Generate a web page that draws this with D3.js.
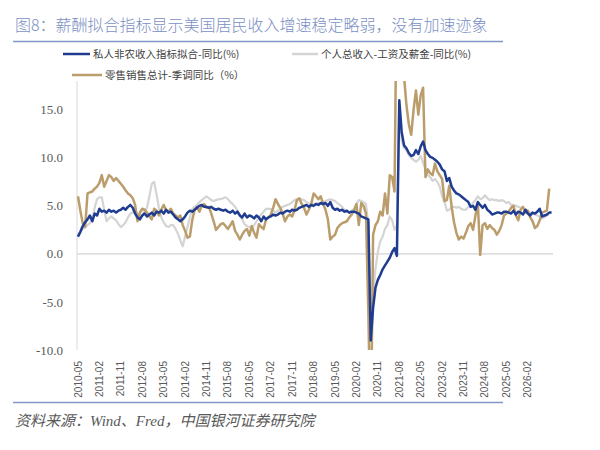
<!DOCTYPE html>
<meta charset="utf-8">
<html>
<script src="https://d3js.org/d3.v7.min.js"></script>
<style>
    body { margin: 0; background: #fff; }
    svg { display: block; }
</style>
<body>
<svg id="chart"></svg>
<script>
// ---------------- data ----------------
const titleText = "图8：薪酬拟合指标显示美国居民收入增速稳定略弱，没有加速迹象";
const sourceText = "资料来源：Wind、Fred，中国银河证券研究院";
const seriesNames = ["私人非农收入指标拟合-同比(%)", "个人总收入-工资及薪金-同比(%)", "零售销售总计-季调同比（%）"];

const tickLabels = ["2010-05","2011-02","2011-11","2012-08","2013-05","2014-02","2014-11","2015-08",
    "2016-05","2017-02","2017-11","2018-08","2019-05","2020-02","2020-11","2021-08","2022-05",
    "2023-02","2023-11","2024-08","2025-05","2026-02"];
const yTicks = [15, 10, 5, 0, -5, -10];

// 私人非农收入指标拟合-同比
const privateNonfarm = [
    1.8,2.3,2.9,3.3,3.6,4.0,3.4,4.2,4.0,4.7,
    4.4,4.5,4.3,4.6,4.4,4.5,4.3,4.5,4.6,4.8,
    4.6,4.9,5.1,4.8,4.2,3.8,3.6,4.0,4.2,3.9,
    4.1,4.3,4.0,4.4,4.3,4.5,4.2,4.6,4.3,4.4,
    4.1,3.8,3.6,3.4,3.6,3.9,4.3,4.5,4.4,4.6,
    4.8,5.0,5.1,4.9,4.9,4.8,4.9,4.7,4.6,4.7,
    4.6,4.5,4.6,4.4,4.3,4.5,4.2,4.4,4.0,3.8,
    4.2,3.8,4.0,3.9,3.7,4.0,3.8,3.4,3.9,3.6,
    3.8,3.9,4.1,4.0,4.1,4.3,4.2,4.4,4.5,4.4,
    4.6,4.5,4.6,4.8,4.9,5.0,5.1,4.9,5.1,5.0,
    5.2,5.1,5.3,5.2,5.3,5.0,5.4,4.8,4.6,4.7,
    4.5,4.6,4.4,4.5,4.3,4.4,4.4,4.3,4.2,3.9,
    3.8,3.7,3.6,-9.0,-5.6,-3.5,-2.7,-2.2,-1.6,-1.2,
    -0.8,-0.4,0.2,0.6,-0.2,16.0,12.7,11.3,11.0,10.5,
    10.2,10.3,10.8,10.4,11.2,11.7,10.8,10.4,10.1,10.0,
    9.8,9.6,9.3,8.8,8.6,7.6,7.9,7.0,6.6,6.3,
    6.2,6.0,5.8,5.6,5.4,4.9,5.0,4.6,5.4,5.1,
    4.8,5.1,4.6,4.4,4.1,4.2,4.3,4.3,4.2,4.4,
    4.4,4.3,4.2,4.5,4.1,4.4,4.3,4.1,4.6,4.2,
    4.0,4.3,4.2,4.4,4.7,3.9,4.0,4.1,4.3,4.3
];

// 个人总收入-工资及薪金-同比
const wagesSalaries = [
    2.0,2.3,2.6,2.8,3.0,3.2,3.6,4.8,5.7,5.9,
    5.9,4.6,3.4,3.7,3.9,3.7,3.5,3.1,2.8,3.0,
    3.3,3.8,4.2,4.3,4.4,4.2,3.8,4.0,4.5,4.8,
    6.0,7.3,7.5,6.2,4.8,3.8,3.3,2.9,2.8,3.0,
    3.0,2.6,2.1,1.4,0.8,1.8,2.8,3.8,4.7,4.9,
    5.1,5.4,5.6,5.8,6.0,5.8,5.6,5.5,5.6,5.7,
    5.7,5.8,5.9,5.7,5.4,5.2,4.9,4.5,4.1,3.6,
    3.1,2.9,2.8,2.7,3.0,3.4,3.8,4.1,4.4,4.7,
    4.7,4.7,4.5,4.3,4.5,4.7,4.9,5.0,5.1,5.2,
    5.4,5.6,5.7,5.7,5.7,5.6,5.4,5.2,5.2,5.2,
    5.2,5.3,5.3,5.4,5.5,5.6,5.7,5.6,5.5,5.3,
    5.1,4.9,4.6,4.4,4.3,4.5,4.7,5.2,5.6,5.5,
    5.4,5.2,3.0,-7.5,-4.5,-1.5,0.2,1.3,1.8,2.6,
    3.0,3.9,3.5,2.5,3.0,15.3,11.8,11.0,10.8,10.3,
    10.0,9.8,9.6,9.8,10.2,9.5,8.8,8.2,8.0,7.6,
    7.8,7.5,7.0,6.0,5.4,4.5,4.6,4.9,4.9,4.8,
    4.9,4.7,4.6,4.6,4.9,5.0,5.3,5.6,6.0,5.7,
    5.8,6.1,5.8,5.6,5.7,5.6,5.6,5.5,5.6,5.5,
    5.3,5.4,5.1,5.1,5.0,4.9,4.8,4.8,4.6,4.5,
    4.3,4.2,4.1,4.0,3.9,3.7,3.8,4.0,4.1
];

// 零售销售总计-季调同比
const retailSales = [
    6.0,4.5,3.2,2.8,6.3,6.4,6.5,6.8,7.0,7.4,
    8.2,7.0,7.6,8.2,8.0,7.6,7.9,7.6,7.3,7.0,
    6.6,6.3,6.1,5.8,5.1,3.4,4.3,4.7,4.6,4.3,
    3.9,3.6,4.7,4.5,4.0,4.6,5.1,4.6,4.4,4.7,
    4.2,4.0,3.8,4.0,3.0,2.4,1.7,1.8,3.5,4.6,
    4.9,4.4,5.0,5.2,4.8,4.9,4.2,3.4,2.5,2.8,
    3.1,3.2,2.9,2.6,3.0,3.4,2.4,2.0,1.5,2.0,
    2.4,2.6,1.9,2.9,2.2,1.7,3.1,2.8,2.6,3.6,
    3.8,4.1,4.8,5.7,5.2,4.8,4.2,3.4,3.9,4.1,
    3.9,4.6,5.6,5.8,5.2,4.8,4.1,4.6,5.2,6.3,
    6.0,5.7,6.0,5.2,4.6,3.6,1.5,1.8,2.0,2.7,
    3.0,3.2,3.3,3.4,3.8,4.1,4.5,5.2,3.0,5.3,
    5.0,4.2,-6.0,-20.0,2.0,3.0,3.4,4.4,4.0,6.3,
    4.2,8.2,8.0,6.5,30.0,50.0,28.0,18.5,15.5,13.5,
    12.4,15.0,17.0,14.5,16.5,17.3,8.0,8.8,8.4,8.2,
    9.4,8.6,8.2,7.8,5.5,5.6,7.1,4.9,3.3,2.2,
    1.5,1.8,1.6,2.2,2.9,3.2,2.5,4.0,5.3,-0.1,
    3.0,3.2,2.6,3.0,2.7,2.5,2.0,2.4,3.0,4.0,
    4.2,4.4,4.8,5.0,4.0,3.5,4.6,4.9,4.3,4.5,
    3.8,3.4,2.7,2.9,3.5,4.3,4.4,4.5,6.8
];

// monthly categories starting 2010-05
const months = [];
for (let k = 0; k < privateNonfarm.length; k++) {
    const m = 4 + k;
    months.push((2010 + Math.floor(m / 12)) + "-" + String(m % 12 + 1).padStart(2, "0"));
}

// ---------------- layout ----------------
const width = 600, height = 450;
const plotLeft = 77, plotRight = 553, plotTop = 81, plotBottom = 350;

const svg = d3.select("#chart")
    .attr("width", width)
    .attr("height", height)
    .style("background", "#fff");

const x = d3.scalePoint().domain(months).range([78, 551.6]);
const y = d3.scaleLinear().domain([-10, 18]).range([plotBottom, plotTop]);

// title + rules
svg.append("text")
    .attr("x", 15).attr("y", 31)
    .attr("font-family", "'Noto Sans CJK SC', sans-serif")
    .attr("font-size", 16)
    .attr("font-weight", 300)
    .attr("fill", "#7b90c4")
    .text(titleText);

svg.append("line").attr("x1", 13).attr("x2", 503).attr("y1", 41.5).attr("y2", 41.5)
    .attr("stroke", "#7f96c8").attr("stroke-width", 1.5);
svg.append("line").attr("x1", 13).attr("x2", 503).attr("y1", 402.5).attr("y2", 402.5)
    .attr("stroke", "#7f96c8").attr("stroke-width", 1.5);

svg.append("text")
    .attr("x", 15).attr("y", 426)
    .attr("font-family", "'Liberation Serif', 'Noto Sans CJK SC', serif")
    .attr("font-size", 15)
    .attr("font-style", "italic")
    .attr("fill", "#595959")
    .text(sourceText);

// axes lines
svg.append("line").attr("x1", plotLeft).attr("x2", plotLeft).attr("y1", plotTop).attr("y2", plotBottom)
    .attr("stroke", "#d9d9d9").attr("stroke-width", 1);
svg.append("line").attr("x1", plotLeft).attr("x2", plotRight).attr("y1", y(0)).attr("y2", y(0))
    .attr("stroke", "#c8c8c8").attr("stroke-width", 1);

// y tick labels
svg.append("g").selectAll("text")
    .data(yTicks)
    .enter().append("text")
    .attr("x", 63)
    .attr("y", d => y(d))
    .attr("dy", "0.35em")
    .attr("text-anchor", "end")
    .attr("font-family", "'Liberation Serif', serif")
    .attr("font-size", 13)
    .attr("fill", "#595959")
    .text(d => d.toFixed(1));

// x tick labels (rotated)
svg.append("g").selectAll("text")
    .data(tickLabels)
    .enter().append("text")
    .attr("transform", d => `translate(${x(d)},361) rotate(-90)`)
    .attr("dy", "0.35em")
    .attr("text-anchor", "end")
    .attr("font-family", "'Liberation Sans', sans-serif")
    .attr("font-size", 10)
    .attr("fill", "#595959")
    .text(d => d);

// clip
svg.append("clipPath").attr("id", "plotClip")
    .append("rect")
    .attr("x", plotLeft).attr("y", plotTop)
    .attr("width", plotRight - plotLeft + 4).attr("height", plotBottom - plotTop);

const line = d3.line()
    .x((d, i) => x(months[i]))
    .y(d => y(d));

const series = [
    { values: wagesSalaries, color: "#d4d4d4", w: 2.2 },
    { values: retailSales, color: "#bb9d6c", w: 2.5 },
    { values: privateNonfarm, color: "#1f3c91", w: 2.5 }
];

const gLines = svg.append("g").attr("clip-path", "url(#plotClip)");
series.forEach(s => {
    gLines.append("path")
        .datum(s.values)
        .attr("d", line)
        .attr("fill", "none")
        .attr("stroke", s.color)
        .attr("stroke-width", s.w)
        .attr("stroke-linejoin", "round");
});

// legend
const legend = [
    { name: seriesNames[0], color: "#1f3c91", x1: 63, x2: 90, y: 54 },
    { name: seriesNames[1], color: "#d4d4d4", x1: 292, x2: 318, y: 54 },
    { name: seriesNames[2], color: "#bb9d6c", x1: 72, x2: 102, y: 75 }
];
const lg = svg.append("g");
legend.forEach(d => {
    lg.append("line")
        .attr("x1", d.x1).attr("x2", d.x2).attr("y1", d.y).attr("y2", d.y)
        .attr("stroke", d.color).attr("stroke-width", 2.5);
    lg.append("text")
        .attr("x", d.x2 + 3).attr("y", d.y)
        .attr("dy", "0.35em")
        .attr("font-family", "'Noto Sans CJK SC', sans-serif")
        .attr("font-size", 10.5)
        .attr("fill", "#404040")
        .text(d.name);
});
</script>
</body>
</html>
